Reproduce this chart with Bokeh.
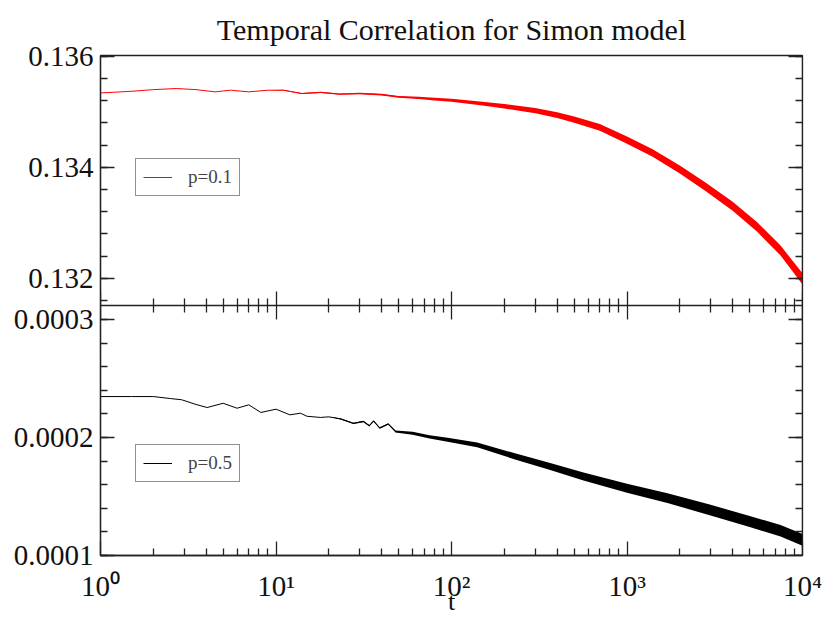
from bokeh.plotting import figure
from bokeh.models import (LogAxis, LinearAxis, Range1d, FixedTicker, Legend, LegendItem,
                          ColumnDataSource, CustomJSTickFormatter)
from bokeh.embed import file_html
from bokeh.resources import INLINE

TITLE = "Temporal Correlation for Simon model"
X_LABEL = "t"
x_ticks = [1, 10, 100, 1000, 10000]
x_tick_labels = ["10\u2070", "10\u00b9", "10\u00b2", "10\u00b3", "10\u2074"]
top_y_ticks = [0.132, 0.134, 0.136]
top_y_labels = ["0.132", "0.134", "0.136"]
bot_y_ticks = [0.0001, 0.0002, 0.0003]
bot_y_labels = ["0.0001", "0.0002", "0.0003"]

# p = 0.1 series (centre line and half-width of its noise band)
t_red = [1, 1.5, 2, 2.7, 3.5, 4.5, 5.5, 7, 9, 11, 14, 18, 23, 30, 40, 50, 65, 80, 100,
         150, 200, 300, 400, 500, 700, 1000, 1400, 2000, 2800, 4000, 5500, 7500, 10000]
c_red = [0.13534, 0.13537, 0.13540, 0.13542, 0.13540, 0.13536, 0.13539, 0.13536, 0.13539,
         0.13539, 0.13533, 0.13535, 0.13532, 0.13533, 0.13531, 0.13527, 0.13525, 0.13523,
         0.13521, 0.13515, 0.13510, 0.13502, 0.13494, 0.13486, 0.13472, 0.13449, 0.13426,
         0.13396, 0.13365, 0.13330, 0.13293, 0.13250, 0.13199]
w_red = [0, 0, 0, 0, 0, 0, 0, 0, 0, 0.000006, 0.000008, 0.00001, 0.00001, 0.000012,
         0.000014, 0.000016, 0.00002, 0.000024, 0.000028, 0.000034, 0.00004, 0.000047,
         0.000052, 0.000056, 0.00006, 0.000064, 0.000068, 0.000072, 0.000076, 0.00008,
         0.000085, 0.00009, 0.0001]

# p = 0.5 series
t_black = [1, 1.5, 2, 2.5, 2.9, 3.5, 4.05, 5, 6, 7, 8.2, 10, 12, 13.8, 15, 17.9, 20, 23.3,
           27.6, 31.5, 34, 36, 39, 43.6, 48, 60, 75, 95, 140, 230, 365, 565, 1000, 1700,
           2960, 5000, 7500, 10000]
c_black = [0.0002347, 0.0002347, 0.0002347, 0.000233, 0.000232, 0.000228, 0.0002254,
           0.000229, 0.0002248, 0.0002277, 0.0002212, 0.000224, 0.0002192, 0.0002206,
           0.000218, 0.000217, 0.0002175, 0.0002158, 0.000212, 0.0002136, 0.000210,
           0.000214, 0.000208, 0.0002115, 0.0002051, 0.0002036, 0.0002005, 0.000198,
           0.0001938, 0.000184, 0.0001754, 0.000167, 0.000157, 0.0001486, 0.0001387,
           0.0001288, 0.000121, 0.0001133]
w_black = [0, 0, 0, 0, 0, 0, 0, 0, 0, 0, 0, 0, 0, 0, 0, 0, 0, 0.0000006, 0.0000006,
           0.0000006, 0.0000006, 0.0000006, 0.0000006, 0.0000006, 0.0000008, 0.0000012,
           0.0000014, 0.0000017, 0.000002, 0.0000026, 0.000003, 0.0000034, 0.0000038,
           0.0000042, 0.0000045, 0.0000047, 0.0000049, 0.000005]

FONT = "Liberation Serif"
AX_COLOR = "#222222"
TOP_RANGE = (0.131511, 0.136015)   # visible span of the upper panel
BOT_RANGE = (0.0001, 0.00031186)   # visible span of the lower panel
X_RANGE = (1, 10000)

x_minor = [m * 10 ** e for e in range(0, 4) for m in range(2, 10)]
top_minor = [round(0.1316 + 0.0004 * k, 4) for k in range(0, 12)]
bot_minor = [round(0.0001 + 0.00002 * k, 5) for k in range(0, 11)]

BLANK = CustomJSTickFormatter(code="return ''")

# each panel fills one half of the shared frame: extend each span by its own length
top_span = TOP_RANGE[1] - TOP_RANGE[0]
bot_span = BOT_RANGE[1] - BOT_RANGE[0]
TOP_FULL = (TOP_RANGE[0] - top_span, TOP_RANGE[1])
BOT_FULL = (BOT_RANGE[0], BOT_RANGE[1] + bot_span)


def top_to_default(v):
    """Position of an upper-panel value on the shared (lower-panel) y scale."""
    return BOT_FULL[0] + (v - TOP_FULL[0]) / (TOP_FULL[1] - TOP_FULL[0]) * (BOT_FULL[1] - BOT_FULL[0])


left_ticks = bot_y_ticks + [top_to_default(v) for v in top_y_ticks]
left_labels = bot_y_labels + top_y_labels
left_minor = bot_minor + [top_to_default(v) for v in top_minor]


def style_axis(ax, size="28px", tick_out=False):
    ax.axis_line_color = AX_COLOR
    ax.axis_line_width = 1.3
    ax.major_tick_line_color = AX_COLOR
    ax.minor_tick_line_color = AX_COLOR
    ax.major_tick_line_width = 1.3
    ax.minor_tick_line_width = 1.3
    ax.major_tick_in = 14
    ax.major_tick_out = 14 if tick_out else 0
    ax.minor_tick_in = 7
    ax.minor_tick_out = 7 if tick_out else 0
    ax.major_label_text_font = FONT
    ax.major_label_text_color = "#111111"
    ax.major_label_text_font_size = size


p = figure(width=831, height=619, x_axis_type="log",
           x_range=Range1d(*X_RANGE), y_range=Range1d(*BOT_FULL),
           output_backend="svg", toolbar_location=None,
           min_border_left=100, min_border_right=29,
           min_border_top=55, min_border_bottom=64,
           x_axis_location=None, y_axis_location=None)
p.extra_y_ranges = {"top": Range1d(*TOP_FULL)}
p.xgrid.visible = False
p.ygrid.visible = False
p.outline_line_color = AX_COLOR
p.outline_line_width = 1.3
p.background_fill_color = "white"
p.border_fill_color = "white"

p.title.text = TITLE
p.title.text_font = FONT
p.title.text_font_size = "30px"
p.title.text_font_style = "normal"
p.title.align = "center"
p.title.text_color = "#111111"
p.title.standoff = 20

# shared left axis carrying both panels' ticks and labels
yt = FixedTicker(ticks=left_ticks, minor_ticks=left_minor)
left_fmt = CustomJSTickFormatter(args=dict(pos=left_ticks, labels=left_labels), code="""
let best = 0, d = Infinity;
for (let i = 0; i < pos.length; i++) {
  const e = Math.abs(pos[i] - tick);
  if (e < d) { d = e; best = i; }
}
return labels[best];
""")
la = LinearAxis(ticker=yt, formatter=left_fmt, major_label_standoff=7)
style_axis(la, size="29px")
ra = LinearAxis(ticker=yt, formatter=BLANK, fixed_location=X_RANGE[1])
style_axis(ra)

# x axes: shared boundary (ticks both ways) and the bottom axis
xt = FixedTicker(ticks=x_ticks, minor_ticks=x_minor)
mid = LogAxis(ticker=xt, formatter=BLANK, fixed_location=BOT_RANGE[1])
style_axis(mid, tick_out=True)
bx = LogAxis(ticker=xt, major_label_overrides=dict(zip(x_ticks, x_tick_labels)),
             major_label_standoff=14, axis_label=X_LABEL, axis_label_standoff=-18)
style_axis(bx, size="29px")
bx.axis_label_text_font = FONT
bx.axis_label_text_font_style = "normal"
bx.axis_label_text_font_size = "26px"
bx.axis_label_text_color = "#111111"

p.add_layout(la, "left")
p.add_layout(ra, "right")
p.add_layout(mid, "below")
p.add_layout(bx, "below")

# data
src_r = ColumnDataSource(dict(t=t_red, c=c_red,
                              lo=[c - w for c, w in zip(c_red, w_red)],
                              hi=[c + w for c, w in zip(c_red, w_red)]))
p.varea(x="t", y1="lo", y2="hi", source=src_r, fill_color="#ff0000", y_range_name="top")
lr = p.line(x="t", y="c", source=src_r, line_color="#ff0000", line_width=1,
            y_range_name="top")

src_b = ColumnDataSource(dict(t=t_black, c=c_black,
                              lo=[c - w for c, w in zip(c_black, w_black)],
                              hi=[c + w for c, w in zip(c_black, w_black)]))
p.varea(x="t", y1="lo", y2="hi", source=src_b, fill_color="#000000")
lb = p.line(x="t", y="c", source=src_b, line_color="#000000", line_width=1)

common = dict(padding=7, glyph_width=29, glyph_height=18, label_height=18,
              label_standoff=16, label_text_font=FONT, label_text_font_size="19px",
              border_line_color="#222222", border_line_width=1.2,
              background_fill_alpha=1, margin=0)
leg1 = Legend(items=[LegendItem(label="p=0.1", renderers=[lr])], location=(35, 359), **common)
leg2 = Legend(items=[LegendItem(label="p=0.5", renderers=[lb])], location=(35, 73), **common)
p.add_layout(leg1, "center")
p.add_layout(leg2, "center")

open("out.html", "w").write(file_html(p, INLINE))
